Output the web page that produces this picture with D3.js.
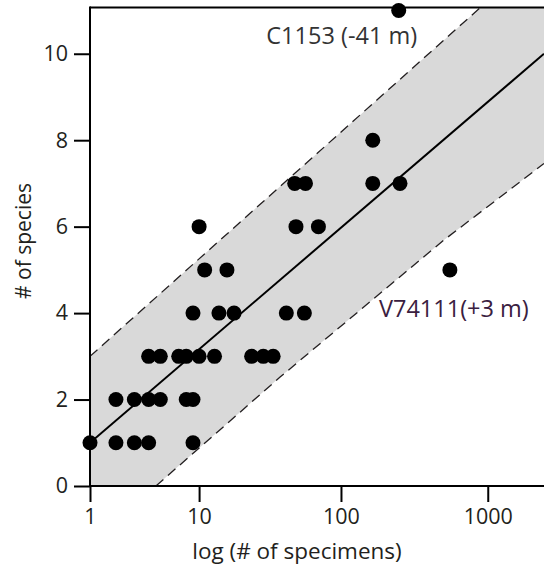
<!DOCTYPE html>
<html>
<head>
<meta charset="utf-8">
<script src="https://cdn.jsdelivr.net/npm/d3@7"></script>
<style>
  body { margin: 0; background: #fff; }
  svg { display: block; font-family: "Open Sans", sans-serif; }
</style>
</head>
<body>
<script>
// specimens per sample and species count
const specimens = [1, 2, 3, 4, 9,
  2, 3, 4, 5, 8, 9,
  4, 5, 7, 8, 10, 13, 24, 29, 34,
  9, 14, 18, 42, 56,
  11, 16, 553,
  10, 49, 70,
  48, 57, 165, 253,
  165,
  248];
const species = [1, 1, 1, 1, 1,
  2, 2, 2, 2, 2, 2,
  3, 3, 3, 3, 3, 3, 3, 3, 3,
  4, 4, 4, 4, 4,
  5, 5, 5,
  6, 6, 6,
  7, 7, 7, 7,
  8,
  11];

// fit line and band edges
const fitN = [1, 2410];
const fitY = [1.0, 10.0];
const upperN = [1, 885];
const upperY = [3.0, 11.06];
const lowerN = [4.6, 38, 499, 2410];
const lowerY = [0, 2.52, 5.68, 7.46];

const xTicks = [1, 10, 100, 1000];
const yTicks = [0, 2, 4, 6, 8, 10];

const notes = [
  { label: "C1153 (-41 m)", n: 248, s: 11 },
  { label: "V74111(+3 m)", n: 553, s: 5 }
];

let width = 544;
let height = 569;
let margin = { left: 90, right: 0, top: 7.5, bottom: 83 };

let svg = d3.select("body").append("svg")
  .attr("width", width)
  .attr("height", height);

let xScale = d3.scaleSymlog().constant(1)
  .domain([1, 2410])
  .range([margin.left, width - margin.right]);
let yScale = d3.scaleLinear()
  .domain([0, 11.07])
  .range([height - margin.bottom, margin.top]);

svg.append("clipPath").attr("id", "plot")
  .append("rect")
  .attr("x", margin.left)
  .attr("y", margin.top)
  .attr("width", width - margin.left - margin.right)
  .attr("height", height - margin.bottom - margin.top);

let g = svg.append("g").attr("clip-path", "url(#plot)");

// band polygon
let bandPts = [[1, 0]]
  .concat(upperN.map((n, i) => [n, upperY[i]]))
  .concat([[2410, 11.07]])
  .concat(lowerN.map((n, i) => [n, lowerY[i]]).reverse());

let line = d3.line()
  .x((d) => xScale(d[0]))
  .y((d) => yScale(d[1]));

g.append("path")
  .attr("d", line(bandPts) + "Z")
  .attr("fill", "#d9d9d9");

g.append("path")
  .attr("d", line(upperN.map((n, i) => [n, upperY[i]])))
  .attr("fill", "none")
  .attr("stroke", "#231f20")
  .attr("stroke-width", 1.3)
  .attr("stroke-dasharray", "10,6");

g.append("path")
  .attr("d", line(lowerN.map((n, i) => [n, lowerY[i]])))
  .attr("fill", "none")
  .attr("stroke", "#231f20")
  .attr("stroke-width", 1.3)
  .attr("stroke-dasharray", "10,6");

g.append("path")
  .attr("d", line(fitN.map((n, i) => [n, fitY[i]])))
  .attr("fill", "none")
  .attr("stroke", "#000")
  .attr("stroke-width", 2);

// axes
let xAxis = d3.axisBottom(xScale)
  .tickValues(xTicks)
  .tickFormat(d3.format("d"))
  .tickSize(16)
  .tickPadding(7);
let yAxis = d3.axisLeft(yScale)
  .tickValues(yTicks)
  .tickSize(16)
  .tickPadding(6);

let gx = svg.append("g")
  .attr("transform", "translate(0," + (height - margin.bottom) + ")")
  .call(xAxis);
let gy = svg.append("g")
  .attr("transform", "translate(" + margin.left + ",0)")
  .call(yAxis);

[gx, gy].forEach((a) => {
  a.select(".domain").remove();
  a.selectAll(".tick line").attr("stroke", "#000").attr("stroke-width", 2);
  a.selectAll(".tick text")
    .attr("fill", "#231f20")
    .style("font-size", "21.5px")
    .style("font-family", "'Open Sans', sans-serif");
});

// frame lines
svg.append("line")
  .attr("x1", margin.left).attr("x2", margin.left)
  .attr("y1", margin.top - 1).attr("y2", height - margin.bottom)
  .attr("stroke", "#000").attr("stroke-width", 2);
svg.append("line")
  .attr("x1", margin.left).attr("x2", width)
  .attr("y1", height - margin.bottom).attr("y2", height - margin.bottom)
  .attr("stroke", "#000").attr("stroke-width", 2);
svg.append("line")
  .attr("x1", margin.left).attr("x2", width)
  .attr("y1", margin.top).attr("y2", margin.top)
  .attr("stroke", "#000").attr("stroke-width", 2);

// points
svg.selectAll(".dot")
  .data(specimens)
  .enter()
  .append("circle")
  .attr("class", "dot")
  .attr("cx", (d) => xScale(d))
  .attr("cy", (d, i) => yScale(species[i]))
  .attr("r", 7.5)
  .attr("fill", "#000");

// labels
svg.append("text")
  .attr("x", xScale(notes[0].n) - 57)
  .attr("y", 44)
  .attr("text-anchor", "middle")
  .attr("fill", "#333")
  .style("font-size", "23.5px")
  .text(notes[0].label);

svg.append("text")
  .attr("x", xScale(notes[1].n) + 4)
  .attr("y", 317)
  .attr("text-anchor", "middle")
  .attr("fill", "#3a2040")
  .style("font-size", "23.5px")
  .text(notes[1].label);

svg.append("text")
  .attr("x", 297)
  .attr("y", 559)
  .attr("text-anchor", "middle")
  .attr("fill", "#231f20")
  .style("font-size", "22.5px")
  .text("log (# of specimens)");

svg.append("text")
  .attr("transform", "translate(31,241) rotate(-90)")
  .attr("text-anchor", "middle")
  .attr("fill", "#231f20")
  .style("font-size", "21px")
  .text("# of species");
</script>
</body>
</html>
